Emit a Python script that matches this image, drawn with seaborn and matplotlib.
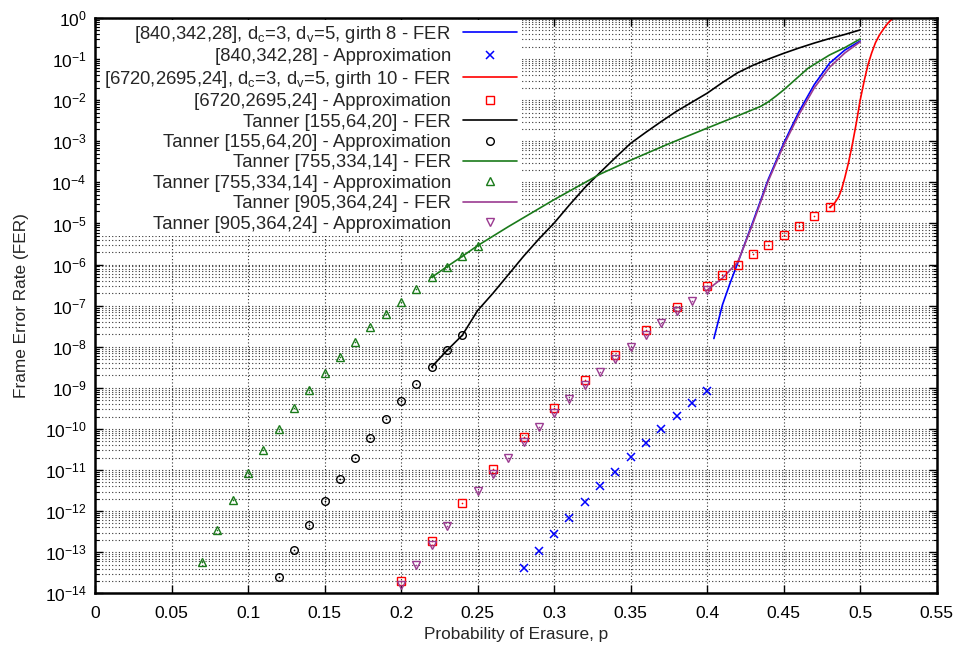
import numpy as np
import matplotlib
matplotlib.use("Agg")
import matplotlib.pyplot as plt
import seaborn as sns
from matplotlib.ticker import LogLocator, FixedLocator, FixedFormatter, LogFormatterSciNotation, NullFormatter

# ---------------- data (FER given as log10) ----------------
p_840_fer = [0.4044, 0.41, 0.415, 0.42, 0.425, 0.43, 0.44, 0.45, 0.46, 0.47, 0.48, 0.49, 0.5]
log_840_fer = [-7.80, -6.98, -6.45, -5.96, -5.45, -4.95, -3.92, -3.05, -2.28, -1.62, -1.10, -0.78, -0.56]

p_840_apx = [0.28, 0.29, 0.30, 0.31, 0.32, 0.33, 0.34, 0.35, 0.36, 0.37, 0.38, 0.39, 0.40]
log_840_apx = [-13.38, -12.96, -12.55, -12.16, -11.77, -11.40, -11.04, -10.69, -10.34, -10.01, -9.69, -9.38, -9.07]

p_6720_fer = [0.48, 0.483, 0.486, 0.488, 0.49, 0.4925, 0.495, 0.4975, 0.5, 0.5025, 0.505,
              0.5075, 0.51, 0.5125, 0.515, 0.518, 0.5215]
log_6720_fer = [-4.61, -4.52, -4.35, -4.15, -3.88, -3.50, -3.05, -2.55, -2.00, -1.55, -1.15,
                -0.85, -0.60, -0.42, -0.28, -0.13, 0.0]

p_6720_apx = [0.20, 0.22, 0.24, 0.26, 0.28, 0.30, 0.32, 0.34, 0.36, 0.38, 0.40,
              0.41, 0.42, 0.43, 0.44, 0.45, 0.46, 0.47, 0.48]
log_6720_apx = [-13.70, -12.73, -11.81, -10.97, -10.20, -9.49, -8.82, -8.19, -7.60, -7.03, -6.51,
                -6.25, -6.00, -5.74, -5.52, -5.29, -5.05, -4.83, -4.61]

p_155_fer = [0.22, 0.23, 0.24, 0.25, 0.26, 0.27, 0.28, 0.29, 0.30, 0.31, 0.32, 0.33, 0.34, 0.35,
             0.36, 0.37, 0.38, 0.39, 0.40, 0.41, 0.42, 0.43, 0.44, 0.45, 0.46, 0.47, 0.48, 0.49, 0.50]
log_155_fer = [-8.49, -8.09, -7.72, -7.12, -6.70, -6.25, -5.80, -5.38, -4.99, -4.55, -4.13, -3.76,
               -3.40, -3.05, -2.78, -2.52, -2.27, -2.05, -1.83, -1.57, -1.33, -1.15, -1.00, -0.86,
               -0.73, -0.61, -0.50, -0.40, -0.29]

p_155_apx = [0.12, 0.13, 0.14, 0.15, 0.16, 0.17, 0.18, 0.19, 0.20, 0.21, 0.22, 0.23, 0.24]
log_155_apx = [-13.60, -12.95, -12.33, -11.76, -11.22, -10.71, -10.23, -9.76, -9.32, -8.90, -8.49, -8.09, -7.71]

p_755_fer = [0.22, 0.23, 0.24, 0.25, 0.27, 0.30, 0.33, 0.35, 0.375, 0.40, 0.42, 0.435, 0.44,
             0.445, 0.45, 0.466, 0.48, 0.49, 0.50]
log_755_fer = [-6.31, -6.05, -5.80, -5.54, -5.08, -4.42, -3.80, -3.46, -3.06, -2.68, -2.38, -2.15,
               -2.04, -1.90, -1.75, -1.22, -0.90, -0.72, -0.51]

p_755_apx = [0.07, 0.08, 0.09, 0.10, 0.11, 0.12, 0.13, 0.14, 0.15, 0.16, 0.17, 0.18, 0.19, 0.20,
             0.21, 0.22, 0.23, 0.24, 0.25]
log_755_apx = [-13.25, -12.45, -11.73, -11.08, -10.52, -9.99, -9.50, -9.06, -8.64, -8.25, -7.88, -7.53,
               -7.20, -6.90, -6.59, -6.31, -6.05, -5.80, -5.54]

p_905_fer = [0.40, 0.41, 0.42, 0.425, 0.43, 0.44, 0.45, 0.46, 0.47, 0.48, 0.49, 0.50]
log_905_fer = [-6.62, -6.33, -5.94, -5.47, -4.99, -3.96, -3.10, -2.35, -1.70, -1.20, -0.85, -0.58]

p_905_apx = [0.20, 0.21, 0.22, 0.23, 0.25, 0.26, 0.27, 0.28, 0.29, 0.30, 0.31, 0.32, 0.33, 0.34,
             0.35, 0.36, 0.37, 0.38, 0.39, 0.40]
log_905_apx = [-13.81, -13.31, -12.83, -12.37, -11.50, -11.09, -10.70, -10.32, -9.96, -9.61, -9.26,
               -8.93, -8.61, -8.31, -8.00, -7.71, -7.42, -7.14, -6.89, -6.61]

x_tick_values = [0, 0.05, 0.1, 0.15, 0.2, 0.25, 0.3, 0.35, 0.4, 0.45, 0.5, 0.55]
x_tick_labels = ["0", "0.05", "0.1", "0.15", "0.2", "0.25", "0.3", "0.35", "0.4", "0.45", "0.5", "0.55"]

labels = [
    "[840,342,28], d$_\\mathregular{c}$=3, d$_\\mathregular{v}$=5, girth 8 - FER",
    "[840,342,28] - Approximation",
    "[6720,2695,24], d$_\\mathregular{c}$=3, d$_\\mathregular{v}$=5, girth 10 - FER",
    "[6720,2695,24] - Approximation",
    "Tanner [155,64,20] - FER",
    "Tanner [155,64,20] - Approximation",
    "Tanner [755,334,14] - FER",
    "Tanner [755,334,14] - Approximation",
    "Tanner [905,364,24] - FER",
    "Tanner [905,364,24] - Approximation",
]

BLUE, RED, BLACK, GREEN, PURPLE = "#0000ff", "#ff0000", "#000000", "#1a7a1a", "#9b3b91"

# ---------------- style ----------------
sns.set_theme(style="ticks")
plt.rcParams['font.family'] = ['Liberation Sans', 'DejaVu Sans']
plt.rcParams['mathtext.fontset'] = 'custom'
plt.rcParams['mathtext.rm'] = 'Liberation Sans'
plt.rcParams['mathtext.it'] = 'Liberation Sans'
plt.rcParams['mathtext.bf'] = 'Liberation Sans:bold'
plt.rcParams['mathtext.sf'] = 'Liberation Sans'

fig = plt.figure(figsize=(9.62, 6.55), dpi=100)
W, H = 962, 655
L, R, T, B = 95, 936.7, 18, 593.3
ax = fig.add_axes([L / W, 1 - B / H, (R - L) / W, (B - T) / H])
ax.set_yscale("log")


def val(logs):
    return 10.0 ** np.asarray(logs)


def fer_line(p, logs, color, label):
    sns.lineplot(x=p, y=val(logs), ax=ax, color=color, lw=1.2, label=label, zorder=3)


def approx(p, logs, color, marker, label, ms=5.5, dot=True):
    if marker == "x":
        sns.lineplot(x=p, y=val(logs), ax=ax, color=color, marker="x", markersize=ms,
                     markeredgecolor=color, markeredgewidth=1.1, linestyle="none",
                     label=label, zorder=4)
    else:
        sns.lineplot(x=p, y=val(logs), ax=ax, color=color, marker=marker, markersize=ms,
                     markerfacecolor="none", markeredgecolor=color, markeredgewidth=1.0,
                     linestyle="none", label=label, zorder=4)
    if dot:
        sns.lineplot(x=p, y=val(logs), ax=ax, color=color, marker="o", markersize=1.2,
                     markeredgewidth=0, linestyle="none", legend=False, zorder=4)


fer_line(p_840_fer, log_840_fer, BLUE, labels[0])
approx(p_840_apx, log_840_apx, BLUE, "x", labels[1], ms=5.5, dot=False)
fer_line(p_6720_fer, log_6720_fer, RED, labels[2])
approx(p_6720_apx, log_6720_apx, RED, "s", labels[3], ms=6.0)
fer_line(p_155_fer, log_155_fer, BLACK, labels[4])
approx(p_155_apx, log_155_apx, BLACK, "o", labels[5], ms=5.5)
fer_line(p_755_fer, log_755_fer, GREEN, labels[6])
approx(p_755_apx, log_755_apx, GREEN, "^", labels[7], ms=5.5)
fer_line(p_905_fer, log_905_fer, PURPLE, labels[8])
approx(p_905_apx, log_905_apx, PURPLE, "v", labels[9], ms=5.5)

# ---------------- axes ----------------
ax.set_xlim(0, 0.55)
ax.set_ylim(1e-14, 1)
ax.xaxis.set_major_locator(FixedLocator(x_tick_values))
ax.xaxis.set_major_formatter(FixedFormatter(x_tick_labels))
ax.yaxis.set_major_locator(LogLocator(base=10, numticks=30))
ax.yaxis.set_major_formatter(LogFormatterSciNotation())
ax.yaxis.set_minor_locator(LogLocator(base=10, subs=np.arange(2, 10), numticks=30))
ax.yaxis.set_minor_formatter(NullFormatter())

ax.tick_params(which="both", direction="in", top=True, right=True, colors="black")
ax.tick_params(which="major", length=6, width=1.0, labelsize=12.6, pad=6)
ax.tick_params(which="minor", length=3, width=0.8)
ax.tick_params(axis="x", which="major", pad=9)

grid_kw = dict(color="0.2", linestyle=(0, (1, 2.0)), linewidth=0.8, zorder=0.5)
ax.grid(True, which="major", axis="x", **grid_kw)
ax.grid(True, which="both", axis="y", **grid_kw)
ax.set_axisbelow(True)

for s in ax.spines.values():
    s.set_linewidth(1.8)
    s.set_color("black")
    s.set_zorder(6)

ax.set_xlabel("Probability of Erasure, p", fontsize=12.4)
ax.set_ylabel("Frame Error Rate (FER)", fontsize=12.4)
ax.xaxis.set_label_coords(0.5, -0.058)
ax.yaxis.set_label_coords(-0.079, 0.5)

handles, labs = ax.get_legend_handles_labels()
leg = ax.legend(handles, labs, loc="upper left", bbox_to_anchor=(0.006, 0.9962),
                markerfirst=False, frameon=True, facecolor="white", edgecolor="none",
                framealpha=1, fancybox=False, borderaxespad=0, borderpad=0.2,
                labelspacing=0.185, handlelength=2.92, handletextpad=0.65, fontsize=13.3)
leg.set_zorder(2)  # above grid, below data lines (as in the reference)

fig.savefig("out.png", dpi=100)
